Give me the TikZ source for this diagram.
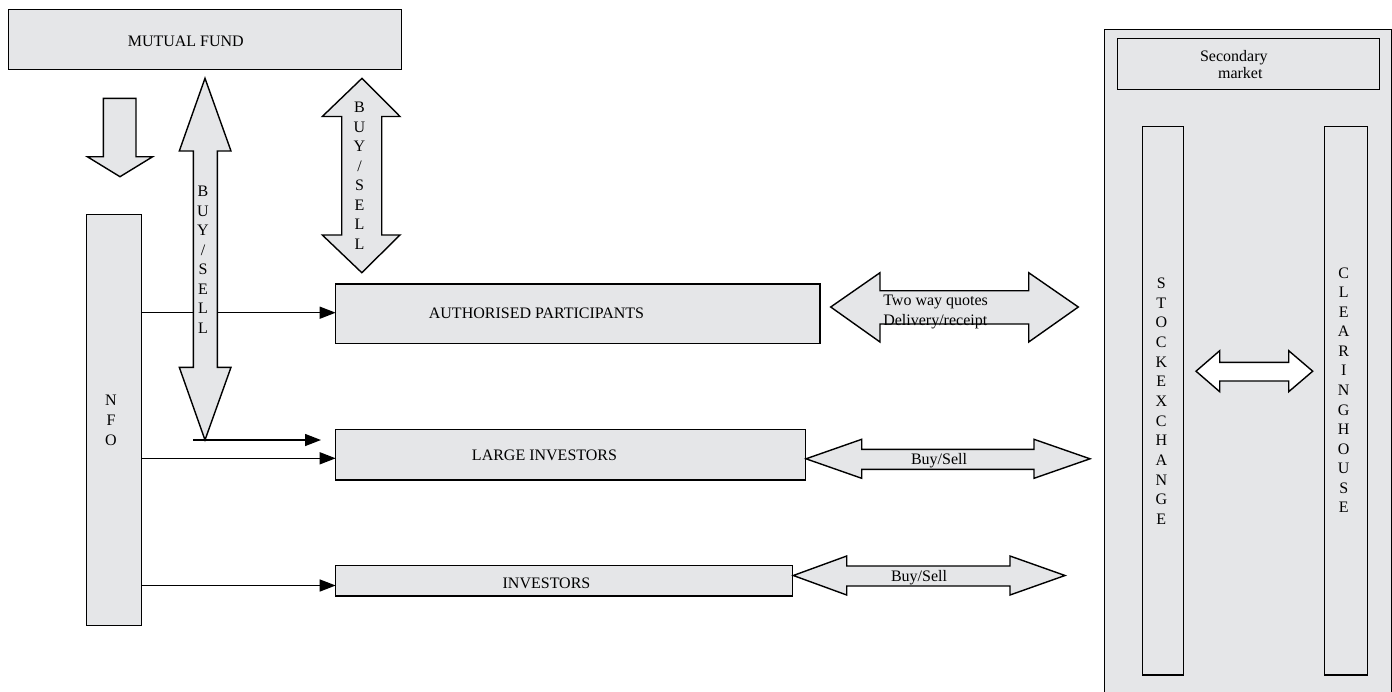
\documentclass[tikz,border=0pt]{standalone}
\usepackage{fontspec}
\setmainfont{Liberation Serif}
\usetikzlibrary{arrows.meta,calc}
\definecolor{boxgray}{RGB}{229,230,232}
\begin{document}
\begin{tikzpicture}[x=1pt,y=-1pt,
  box/.style={draw=black,fill=boxgray,line width=1.4pt,inner sep=0pt,outer sep=0pt,anchor=north west},
  lbl/.style={font=\fontsize{16}{19.5}\selectfont,inner sep=0pt,outer sep=0pt},
  stack/.style={lbl,align=center},
  blk/.style={draw=black,fill=boxgray,line width=1.4pt,line join=miter},
  conn/.style={line width=1.4pt,-{Triangle[length=16pt,width=12pt]}},
]
\useasboundingbox (0,0) rectangle (1392,691);

% ---- boxes ----
\node[box,minimum width=393.4pt,minimum height=60pt] (mf) at (8.3,9.3) {};
\node[lbl,anchor=base] (mft) at (185.8,46.5) {MUTUAL FUND};

\node[box,minimum width=55pt,minimum height=411pt] (nfo) at (86.7,214.7) {};
\node[stack,font=\fontsize{16}{20.3}\selectfont] (nfot) at (111,420.3) {N\\F\\O};

\node[box,minimum width=484.3pt,minimum height=59.5pt] (ap) at (335.7,284) {};
\node[lbl,anchor=base] (apt) at (536.5,318.3) {AUTHORISED PARTICIPANTS};

\node[box,minimum width=470pt,minimum height=50.7pt] (li) at (335.7,429.3) {};
\node[lbl,anchor=base] (lit) at (544.5,460) {LARGE INVESTORS};

\node[box,minimum width=457pt,minimum height=30.7pt] (inv) at (335.7,565.3) {};
\node[lbl,anchor=base] (invt) at (546.5,588.3) {INVESTORS};

% secondary market container
\node[box,minimum width=286.6pt,minimum height=680pt] (sm) at (1104.7,29.3) {};
\node[box,minimum width=262pt,minimum height=51pt] (smt) at (1117.7,38.3) {};
\node[lbl,anchor=base] (smt1) at (1233.8,61) {Secondary};
\node[lbl,anchor=base] (smt2) at (1240.3,78.5) {market};

\node[box,minimum width=41pt,minimum height=548.3pt] (se) at (1142.7,126.7) {};
\node[stack,font=\fontsize{16}{19.67}\selectfont] (set) at (1161.3,401.3) {S\\T\\O\\C\\K\\E\\X\\C\\H\\A\\N\\G\\E};

\node[box,minimum width=42.6pt,minimum height=548.3pt] (ch) at (1324.7,126.7) {};
\node[stack,font=\fontsize{16}{19.58}\selectfont] (cht) at (1343.7,390.2) {C\\L\\E\\A\\R\\I\\N\\G\\H\\O\\U\\S\\E};

% ---- thin connectors ----
\coordinate (apin) at (335.7,312.7);
\coordinate (liin) at (335.7,458.3);
\coordinate (invin) at (335.7,585.5);
\draw[conn] (nfo.east |- apin) -- (apin);
\draw[conn] (nfo.east |- liin) -- (liin);
\draw[conn] (nfo.east |- invin) -- (invin);
\coordinate (bs0) at (193,440);
\coordinate (bs1) at (321,440);
\draw[conn] (bs0) -- (bs1);

% ---- block arrows ----
% down arrow from mutual fund
\draw[blk] (103.3,98.3) -- (136,98.3) -- (136,156.7) -- (152.7,156.7) -- (120,176.7)
  -- (87.3,156.7) -- (103.3,156.7) -- cycle;

% big vertical double arrow
\draw[blk] (205,78.3) -- (231,151) -- (217.3,151) -- (217.3,367.3) -- (231,367.3) -- (205,440)
  -- (179.3,367.3) -- (193.3,367.3) -- (193.3,151) -- (179.3,151) -- cycle;
\node[stack] (bs1t) at (203,260) {B\\U\\Y\\/\\S\\E\\L\\L};

% small vertical double arrow
\draw[blk] (362,78.3) -- (400,116.5) -- (381.7,116.5) -- (381.7,235) -- (400,235) -- (361.8,272.7)
  -- (322.3,235) -- (341.7,235) -- (341.7,116.5) -- (322.3,116.5) -- cycle;
\node[stack] (bs2t) at (359.5,175.8) {B\\U\\Y\\/\\S\\E\\L\\L};

% two way quotes arrow
\draw[blk] (830.7,307) -- (880,272.7) -- (880,290.7) -- (1028.7,290.7) -- (1028.7,272.7) -- (1078.3,307)
  -- (1028.7,342) -- (1028.7,324) -- (880,324) -- (880,342) -- cycle;
\node[lbl,anchor=base west] (twq1) at (883.3,305) {Two way quotes};
\node[lbl,anchor=base west] (twq2) at (883.3,325.5) {Delivery/receipt};

% buy/sell arrow (large investors)
\draw[blk] (806,458.8) -- (861.7,439.3) -- (861.7,449.3) -- (1034,449.3) -- (1034,439.3) -- (1090,458.8)
  -- (1034,478.3) -- (1034,469.3) -- (861.7,469.3) -- (861.7,478.3) -- cycle;
\node[lbl,anchor=base] (bsl) at (939,464) {Buy/Sell};

% buy/sell arrow (investors)
\draw[blk] (793.3,575.5) -- (846.7,556) -- (846.7,566) -- (1010,566) -- (1010,556) -- (1065,575.5)
  -- (1010,595) -- (1010,586) -- (846.7,586) -- (846.7,595) -- cycle;
\node[lbl,anchor=base] (bsi) at (919,581.7) {Buy/Sell};

% inner white double arrow
\draw[blk,fill=white] (1196,371.2) -- (1219.7,350.7) -- (1219.7,362.3) -- (1288.7,362.3) -- (1288.7,350.7)
  -- (1312.7,371.2) -- (1288.7,391.7) -- (1288.7,381) -- (1219.7,381) -- (1219.7,391.7) -- cycle;
\end{tikzpicture}
\end{document}
